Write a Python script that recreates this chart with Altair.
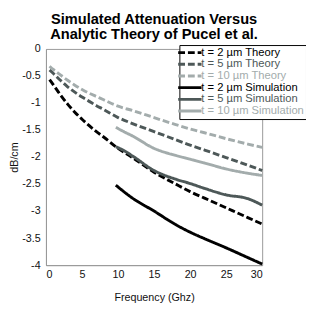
import altair as alt
import pandas as pd

series_names = [
    "t = 2 µm Theory", "t = 5 µm Theory", "t = 10 µm Theory",
    "t = 2 µm Simulation", "t = 5 µm Simulation", "t = 10 µm Simulation",
]
series_colors = ["#000000", "#4d5858", "#a3acac", "#000000", "#4d5858", "#a3acac"]
series_dash = [[7, 3], [7, 3], [7, 3], [1, 0], [1, 0], [1, 0]]

theory_x = [0.5, 1, 2, 3, 4, 5, 6, 7, 8, 10, 12, 15, 18, 20, 22, 25, 28, 30]
t2_theory = [-0.57, -0.66, -0.85, -1.02, -1.17, -1.30, -1.42, -1.53, -1.63, -1.84, -2.01, -2.28, -2.50, -2.64, -2.76, -2.94, -3.12, -3.24]
t5_theory = [-0.39, -0.45, -0.58, -0.70, -0.80, -0.89, -0.97, -1.05, -1.12, -1.27, -1.38, -1.53, -1.68, -1.78, -1.87, -2.01, -2.15, -2.25]
t10_theory = [-0.32, -0.38, -0.48, -0.58, -0.67, -0.75, -0.82, -0.88, -0.94, -1.06, -1.14, -1.27, -1.40, -1.48, -1.55, -1.66, -1.76, -1.82]

sim_x = [9.7, 10.8, 12, 15, 18, 20, 22, 25, 28, 30]
t2_sim = [-2.52, -2.64, -2.76, -3.00, -3.25, -3.39, -3.51, -3.68, -3.86, -3.98]
t5_sim = [-1.81, -1.88, -1.98, -2.25, -2.41, -2.49, -2.58, -2.70, -2.77, -2.89]
t10_sim = [-1.45, -1.53, -1.61, -1.84, -1.97, -2.04, -2.11, -2.22, -2.30, -2.34]

rows = []
for name, xs, ys in [
    (series_names[0], theory_x, t2_theory),
    (series_names[1], theory_x, t5_theory),
    (series_names[2], theory_x, t10_theory),
    (series_names[3], sim_x, t2_sim),
    (series_names[4], sim_x, t5_sim),
    (series_names[5], sim_x, t10_sim),
]:
    for x, y in zip(xs, ys):
        rows.append({"series": name, "freq": x, "db": y})
df = pd.DataFrame(rows)

label_color_expr = (
    "indexof(['t = 5 µm Theory','t = 5 µm Simulation'], datum.label) >= 0 ? '#4d5858' : "
    "(indexof(['t = 10 µm Theory','t = 10 µm Simulation'], datum.label) >= 0 ? '#a3acac' : '#000000')"
)

chart = alt.Chart(df).mark_line(strokeWidth=3, interpolate="monotone").encode(
    x=alt.X("freq:Q", scale=alt.Scale(domain=[0, 30], nice=False),
            axis=alt.Axis(values=[0, 5, 10, 15, 20, 25, 30], title="Frequency (Ghz)",
                          ticks=False, grid=False, labelPadding=4, titlePadding=12,
                          labelExpr="toString(datum.value)")),
    y=alt.Y("db:Q", scale=alt.Scale(domain=[-4, 0], nice=False),
            axis=alt.Axis(values=[0, -0.5, -1, -1.5, -2, -2.5, -3, -3.5, -4], title="dB/cm",
                          ticks=False, grid=False, labelPadding=6, titlePadding=2,
                          labelExpr="toString(datum.value)")),
    color=alt.Color("series:N", scale=alt.Scale(domain=series_names, range=series_colors),
                    legend=alt.Legend(title=None, orient="none", legendX=137, legendY=-4,
                                      symbolType="M-3,0H3", symbolStrokeWidth=3, symbolSize=64,
                                      symbolOffset=3,
                                      fillColor="white", strokeColor="black", padding=2,
                                      labelFontSize=11.5, labelOffset=6, rowPadding=-1,
                                      labelLimit=200,
                                      labelColor=alt.ExprRef(label_color_expr))),
    strokeDash=alt.StrokeDash("series:N", scale=alt.Scale(domain=series_names, range=series_dash),
                              legend=None),
    detail="series:N",
).properties(
    width=222, height=222,
    title=alt.TitleParams(["Simulated Attenuation Versus", "Analytic Theory of Pucel et al."],
                          fontSize=15, font="Liberation Sans", fontWeight="bold",
                          anchor="middle", offset=1, lineHeight=16),
    autosize=alt.AutoSizeParams(type="none"),
    padding={"left": 39, "top": 38, "right": 45, "bottom": 41},
).configure_view(stroke="#999999", strokeWidth=1).configure_axis(
    domainColor="#999999", labelFont="Liberation Sans", titleFont="Liberation Sans",
    labelFontSize=11, titleFontSize=11, titleFontWeight="normal",
    labelColor="#111111", titleColor="#111111",
).configure_legend(labelFont="Liberation Sans")

chart.save("out.html", embed_options={"renderer": "svg", "actions": False})
